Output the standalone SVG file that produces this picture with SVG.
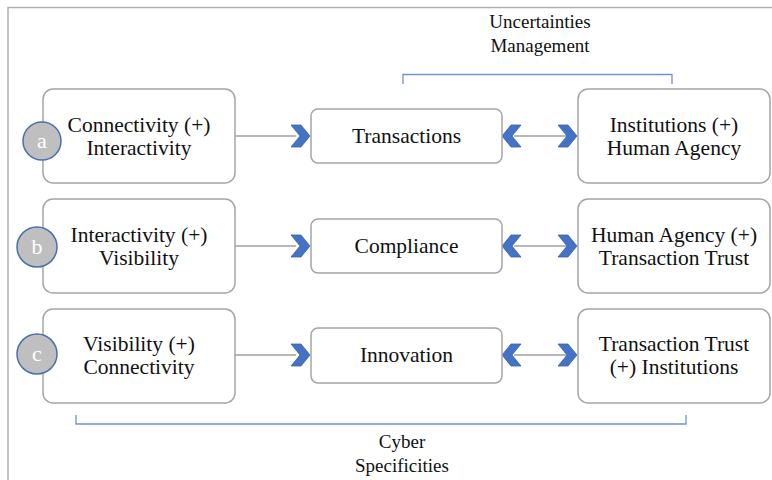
<svg xmlns="http://www.w3.org/2000/svg" width="772" height="480" viewBox="0 0 772 480">
  <defs>
    <style>
      .box { fill: #ffffff; stroke: #a5a5a5; stroke-width: 1.5; }
      .lbl { font-family: "Liberation Serif", "Times New Roman", serif; font-size: 21.5px; fill: #111111; text-anchor: middle; }
      .cap { font-family: "Liberation Serif", "Times New Roman", serif; font-size: 19px; fill: #111111; text-anchor: middle; }
      .badge { fill: #bfbfbf; stroke: #4a6fb0; stroke-width: 1.5; }
      .badge-t { font-family: "Liberation Serif", "Times New Roman", serif; font-size: 22px; fill: #ffffff; text-anchor: middle; }
      .link { stroke: #a0a0a0; stroke-width: 1.5; fill: none; }
      .brace { stroke: #6f93cf; stroke-width: 1.3; fill: none; }
      .chev { fill: #4472c4; stroke: #3a62a8; stroke-width: 0.8; stroke-linejoin: round; }
    </style>
    <!-- right-pointing chevron, tip at origin -->
    <polygon id="chevR" class="chev" points="-19,-11 -9,-11 0,0 -9,11 -19,11 -10,0"/>
  </defs>

  <!-- frame -->
  <path d="M8,480 V7.5 H772" stroke="#b0b0b0" stroke-width="1.5" fill="none"/>

  <!-- connectors -->
  <g id="connectors">
    <line class="link" x1="235" y1="136" x2="296" y2="136"/>
    <line class="link" x1="514" y1="136" x2="566" y2="136"/>
    <line class="link" x1="235" y1="246" x2="296" y2="246"/>
    <line class="link" x1="514" y1="246" x2="566" y2="246"/>
    <line class="link" x1="235" y1="355" x2="296" y2="355"/>
    <line class="link" x1="514" y1="355" x2="566" y2="355"/>
    <use href="#chevR" x="310" y="136"/>
    <use href="#chevR" x="577" y="136"/>
    <use href="#chevR" transform="translate(502,136) scale(-1,1)"/>
    <use href="#chevR" x="310" y="246"/>
    <use href="#chevR" x="577" y="246"/>
    <use href="#chevR" transform="translate(502,246) scale(-1,1)"/>
    <use href="#chevR" x="310" y="355"/>
    <use href="#chevR" x="577" y="355"/>
    <use href="#chevR" transform="translate(502,355) scale(-1,1)"/>
  </g>

  <!-- brackets -->
  <g id="uncertainties">
    <path class="brace" d="M403,84 V74.5 H672 V84"/>
    <text class="cap" x="540" y="28">Uncertainties</text>
    <text class="cap" x="540" y="52">Management</text>
  </g>
  <g id="cyber">
    <path class="brace" d="M76,415 V424 H686 V415"/>
    <text class="cap" x="402" y="448">Cyber</text>
    <text class="cap" x="402" y="472">Specificities</text>
  </g>

  <!-- row a -->
  <g id="node-a-left">
    <rect class="box" x="43" y="89" width="192" height="94" rx="10"/>
    <text class="lbl" x="139" y="132">Connectivity (+)</text>
    <text class="lbl" x="139" y="155">Interactivity</text>
  </g>
  <g id="badge-a">
    <circle class="badge" cx="42" cy="141" r="19"/>
    <text class="badge-t" x="42" y="148">a</text>
  </g>
  <g id="node-a-mid">
    <rect class="box" x="311" y="109" width="191" height="54" rx="7"/>
    <text class="lbl" x="406.5" y="143">Transactions</text>
  </g>
  <g id="node-a-right">
    <rect class="box" x="578" y="89" width="192" height="94" rx="10"/>
    <text class="lbl" x="674" y="132">Institutions (+)</text>
    <text class="lbl" x="674" y="155">Human Agency</text>
  </g>

  <!-- row b -->
  <g id="node-b-left">
    <rect class="box" x="43" y="199" width="192" height="94" rx="10"/>
    <text class="lbl" x="139" y="242">Interactivity (+)</text>
    <text class="lbl" x="139" y="265">Visibility</text>
  </g>
  <g id="badge-b">
    <circle class="badge" cx="37" cy="247" r="20"/>
    <text class="badge-t" x="37" y="254">b</text>
  </g>
  <g id="node-b-mid">
    <rect class="box" x="311" y="219" width="191" height="54" rx="7"/>
    <text class="lbl" x="406.5" y="253">Compliance</text>
  </g>
  <g id="node-b-right">
    <rect class="box" x="578" y="199" width="192" height="94" rx="10"/>
    <text class="lbl" x="674" y="242">Human Agency (+)</text>
    <text class="lbl" x="674" y="265">Transaction Trust</text>
  </g>

  <!-- row c -->
  <g id="node-c-left">
    <rect class="box" x="43" y="309" width="192" height="94" rx="10"/>
    <text class="lbl" x="139" y="351">Visibility (+)</text>
    <text class="lbl" x="139" y="374">Connectivity</text>
  </g>
  <g id="badge-c">
    <circle class="badge" cx="37" cy="354" r="20"/>
    <text class="badge-t" x="37" y="361">c</text>
  </g>
  <g id="node-c-mid">
    <rect class="box" x="311" y="328" width="191" height="55" rx="7"/>
    <text class="lbl" x="406.5" y="362">Innovation</text>
  </g>
  <g id="node-c-right">
    <rect class="box" x="578" y="309" width="192" height="94" rx="10"/>
    <text class="lbl" x="674" y="351">Transaction Trust</text>
    <text class="lbl" x="674" y="374">(+) Institutions</text>
  </g>
</svg>
